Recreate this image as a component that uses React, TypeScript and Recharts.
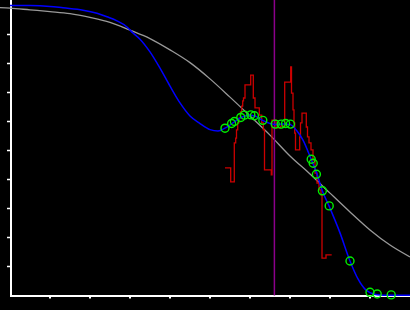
import {
  ComposedChart,
  Line,
  Scatter,
  XAxis,
  YAxis,
  ReferenceLine,
} from 'recharts';

// smooth gray reference curve
const grayX = [-0.25, 0, 0.5, 1, 1.5, 2, 2.5, 3, 3.5, 4, 4.5, 5, 5.5, 6, 6.5, 7, 7.5, 8, 8.5, 9, 9.5, 10];
const grayY = [9.93, 9.91, 9.85, 9.79, 9.72, 9.59, 9.42, 9.15, 8.86, 8.47, 8.03, 7.47, 6.84, 6.19, 5.53, 4.81, 4.19, 3.53, 2.88, 2.26, 1.74, 1.33];

// blue fitted curve
const blueX = [0, 0.5, 1, 1.325, 1.825, 2.175, 2.425, 2.675, 2.925, 3.075, 3.25, 3.5, 3.75, 4, 4.25, 4.5, 4.75, 5, 5.2, 5.375, 5.55, 5.775, 6, 6.125, 6.325, 6.625, 6.825, 7, 7.175, 7.325, 7.525, 7.675, 7.8, 7.975, 8.25, 8.5, 8.7, 8.875, 9, 9.175, 9.5, 10];
const blueY = [10.0, 10.0, 9.97, 9.92, 9.84, 9.73, 9.61, 9.47, 9.26, 9.05, 8.84, 8.4, 7.84, 7.22, 6.64, 6.19, 5.93, 5.72, 5.67, 5.77, 5.93, 6.14, 6.22, 6.19, 6.03, 5.9, 5.91, 5.9, 5.67, 5.36, 4.71, 4.19, 3.64, 3.09, 2.16, 1.19, 0.57, 0.22, 0.1, 0.03, 0.01, 0.01];

// red noisy step signal
const redX = [5.375, 5.5175, 5.6075, 5.6425, 5.6625, 5.6925, 5.725, 5.7625, 5.7925, 5.8175, 5.8375, 5.875, 6.0175, 6.0825, 6.125, 6.2325, 6.2925, 6.3325, 6.3625, 6.5325, 6.55, 6.65, 6.7675, 6.8675, 7.0175, 7.0375, 7.075, 7.1, 7.1175, 7.1375, 7.2425, 7.2625, 7.3, 7.4075, 7.4375, 7.475, 7.525, 7.575, 7.625, 7.675, 7.725, 7.775, 7.8, 7.9, 8.0425];
const redY = [4.4, 3.92, 5.26, 5.43, 5.71, 5.95, 6.12, 6.33, 6.53, 6.71, 6.81, 7.26, 7.6, 6.81, 6.47, 6.22, 5.95, 5.71, 4.33, 4.16, 6.05, 5.78, 5.84, 7.36, 7.88, 6.98, 6.4, 5.95, 5.6, 5.02, 5.47, 5.95, 6.29, 5.81, 5.47, 5.26, 5.02, 4.67, 4.22, 3.88, 3.64, 3.47, 1.29, 1.4, 1.4];

// green sample markers
const markX = [5.375, 5.54, 5.61, 5.77, 5.86, 6.02, 6.11, 6.32, 6.63, 6.78, 6.89, 7.01, 7.53, 7.58, 7.66, 7.81, 7.98, 8.5, 9.0, 9.18, 9.53];
const markY = [5.77, 5.93, 6.0, 6.14, 6.22, 6.23, 6.2, 6.04, 5.91, 5.91, 5.93, 5.91, 4.7, 4.56, 4.18, 3.61, 3.09, 1.19, 0.11, 0.05, 0.02];

const cursorX = 6.61;
const xTicks = [1, 2, 3, 4, 5, 6, 7, 8, 9];
const yTicks = [1, 2, 3, 4, 5, 6, 7, 8, 9];

const toPoints = (xs: number[], ys: number[]) => xs.map((x, i) => ({ x, y: ys[i] }));

const grayData = toPoints(grayX, grayY);
const blueData = toPoints(blueX, blueY);
const redData = toPoints(redX, redY);
const markData = toPoints(markX, markY);

const Ring = (props: any) => (
  <circle cx={props.cx} cy={props.cy} r={4} fill="none" stroke="#00ee00" strokeWidth={1.4} />
);

export default function App() {
  return (
    <div style={{ position: 'absolute', left: 0, top: 0, width: 410, height: 310, background: '#000' }}>
      <ComposedChart width={410} height={310} margin={{ top: 0, right: 0, bottom: 0, left: 0 }}>
        <XAxis
          type="number"
          dataKey="x"
          domain={[-0.25, 10]}
          ticks={xTicks}
          interval={0}
          height={14.5}
          axisLine={false}
          tickLine={{ stroke: '#fff', strokeWidth: 2 }}
          tickSize={3}
          tick={() => null}
        />
        <YAxis type="number" dataKey="y" domain={[0, 10.19]} hide width={0} />

        {/* axis lines drawn by hand so the gray curve can run left of the y axis */}
        <ReferenceLine ifOverflow="visible" segment={[{ x: 0, y: -0.017 }, { x: 10, y: -0.017 }]} stroke="#fff" strokeWidth={2} />
        <ReferenceLine ifOverflow="visible" segment={[{ x: 0.025, y: -0.017 }, { x: 0.025, y: 10.19 }]} stroke="#fff" strokeWidth={2} />
        {yTicks.map((t) => (
          <ReferenceLine key={t} ifOverflow="visible" segment={[{ x: -0.075, y: t }, { x: 0, y: t }]} stroke="#fff" strokeWidth={1.5} />
        ))}

        <Line data={grayData} dataKey="y" type="monotone" stroke="#999" strokeWidth={1.3} dot={false} activeDot={false} isAnimationActive={false} />
        <Line data={redData} dataKey="y" type="stepAfter" stroke="#cc0000" strokeWidth={1.3} dot={false} activeDot={false} isAnimationActive={false} />
        <ReferenceLine x={cursorX} stroke="#8b008b" strokeWidth={1.5} />
        <Line data={blueData} dataKey="y" type="monotone" stroke="#0000ff" strokeWidth={1.5} dot={false} activeDot={false} isAnimationActive={false} />
        <Scatter data={markData} dataKey="y" shape={Ring} activeShape={Ring} isAnimationActive={false} />
      </ComposedChart>
    </div>
  );
}
